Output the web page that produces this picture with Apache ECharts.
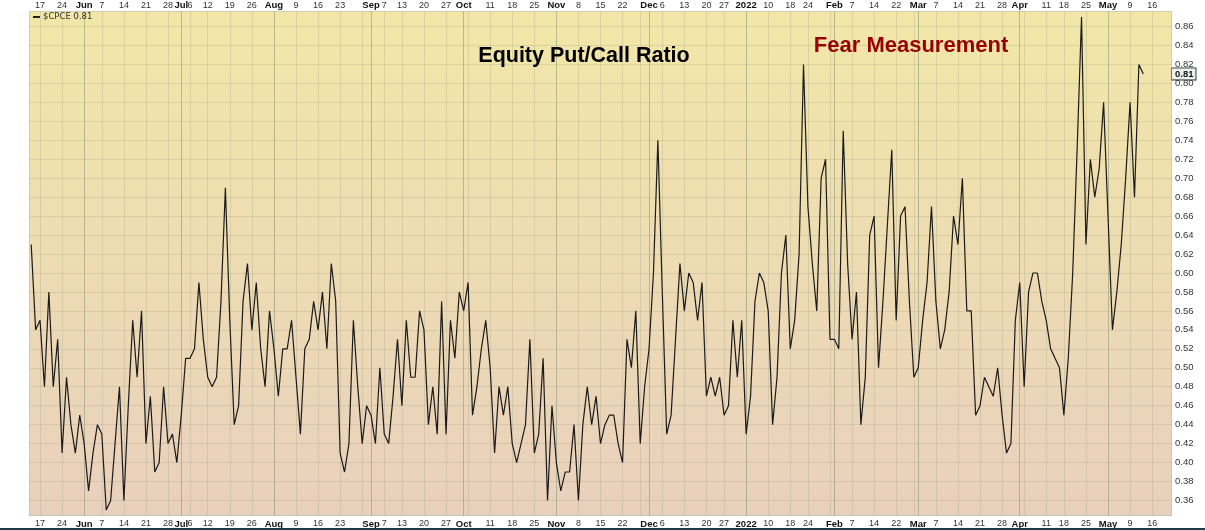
<!DOCTYPE html>
<html><head><meta charset="utf-8">
<script src="https://cdn.jsdelivr.net/npm/echarts@6/dist/echarts.min.js"></script>
<style>html,body{margin:0;padding:0;background:#fff}#c{width:1205px;height:530px}</style>
</head><body><div id="c"></div>
<script>
// ---- data ----
const cpce = [
0.63,0.54,0.55,0.48,0.58,0.48,0.53,0.41,0.49,0.44,
0.41,0.45,0.42,0.37,0.41,0.44,0.43,0.35,0.36,0.42,
0.48,0.36,0.46,0.55,0.49,0.56,0.42,0.47,0.39,0.40,
0.48,0.42,0.43,0.40,0.45,0.51,0.51,0.52,0.59,0.53,
0.49,0.48,0.49,0.57,0.69,0.55,0.44,0.46,0.57,0.61,
0.54,0.59,0.52,0.48,0.56,0.52,0.47,0.52,0.52,0.55,
0.49,0.43,0.52,0.53,0.57,0.54,0.58,0.52,0.61,0.57,
0.41,0.39,0.42,0.55,0.48,0.42,0.46,0.45,0.42,0.50,
0.43,0.42,0.47,0.53,0.46,0.55,0.49,0.49,0.56,0.54,
0.44,0.48,0.43,0.57,0.43,0.55,0.51,0.58,0.56,0.59,
0.45,0.48,0.52,0.55,0.50,0.41,0.48,0.45,0.48,0.42,
0.40,0.42,0.44,0.53,0.41,0.43,0.51,0.36,0.46,0.40,
0.37,0.39,0.39,0.44,0.36,0.44,0.48,0.44,0.47,0.42,
0.44,0.45,0.45,0.42,0.40,0.53,0.50,0.56,0.42,0.48,
0.52,0.60,0.74,0.58,0.43,0.45,0.53,0.61,0.56,0.60,
0.59,0.55,0.59,0.47,0.49,0.47,0.49,0.45,0.46,0.55,
0.49,0.55,0.43,0.47,0.57,0.60,0.59,0.56,0.44,0.49,
0.60,0.64,0.52,0.55,0.62,0.82,0.67,0.61,0.56,0.70,
0.72,0.53,0.53,0.52,0.75,0.61,0.53,0.58,0.44,0.49,
0.64,0.66,0.50,0.57,0.65,0.73,0.55,0.66,0.67,0.57,
0.49,0.50,0.55,0.59,0.67,0.57,0.52,0.54,0.58,0.66,
0.63,0.70,0.56,0.56,0.45,0.46,0.49,0.48,0.47,0.50,
0.45,0.41,0.42,0.55,0.59,0.48,0.58,0.60,0.60,0.57,
0.55,0.52,0.51,0.50,0.45,0.51,0.60,0.73,0.87,0.63,
0.72,0.68,0.71,0.78,0.66,0.54,0.58,0.63,0.70,0.78,
0.68,0.82,0.81
];
const startDate = '2021-05-13';
const endDate = '2022-05-20';
const holidays = ['2021-05-31','2021-07-05','2021-09-06','2021-11-25','2021-12-24','2022-01-17','2022-02-21','2022-04-15'];
const tickDates = ['2021-05-17','2021-05-24','2021-06-01','2021-06-07','2021-06-14','2021-06-21','2021-06-28','2021-07-01','2021-07-06','2021-07-12','2021-07-19','2021-07-26','2021-08-02','2021-08-09','2021-08-16','2021-08-23','2021-09-01','2021-09-07','2021-09-13','2021-09-20','2021-09-27','2021-10-01','2021-10-11','2021-10-18','2021-10-25','2021-11-01','2021-11-08','2021-11-15','2021-11-22','2021-12-01','2021-12-06','2021-12-13','2021-12-20','2021-12-27','2022-01-03','2022-01-10','2022-01-18','2022-01-24','2022-02-01','2022-02-07','2022-02-14','2022-02-22','2022-03-01','2022-03-07','2022-03-14','2022-03-21','2022-03-28','2022-04-01','2022-04-11','2022-04-18','2022-04-25','2022-05-02','2022-05-09','2022-05-16'];
const tickTexts = ['17','24','Jun','7','14','21','28','Jul','6','12','19','26','Aug','9','16','23','Sep','7','13','20','27','Oct','11','18','25','Nov','8','15','22','Dec','6','13','20','27','2022','10','18','24','Feb','7','14','22','Mar','7','14','21','28','Apr','11','18','25','May','9','16'];
const monthDates = ['2021-06-01','2021-07-01','2021-08-02','2021-09-01','2021-10-01','2021-11-01','2021-12-01','2022-01-03','2022-02-01','2022-03-01','2022-04-01','2022-05-02'];
const unlabeledWeekDates = ['2021-08-30','2021-10-04','2021-11-29','2022-01-31','2022-02-28','2022-04-04'];
const yTicks = [0.36,0.38,0.40,0.42,0.44,0.46,0.48,0.50,0.52,0.54,0.56,0.58,0.60,0.62,0.64,0.66,0.68,0.70,0.72,0.74,0.76,0.78,0.80,0.82,0.84,0.86];
const lastValue = 0.81;
const symbolName = '$CPCE';
const title1 = 'Equity Put/Call Ratio';
const title2 = 'Fear Measurement';

// ---- build categories (trading days) ----
function tradingDays(s, e) {
  const out = [];
  const d = new Date(s + 'T00:00:00Z');
  const end = new Date(e + 'T00:00:00Z');
  while (d <= end) {
    const wd = d.getUTCDay();
    const iso = d.toISOString().slice(0, 10);
    if (wd !== 0 && wd !== 6 && holidays.indexOf(iso) < 0) out.push(iso);
    d.setUTCDate(d.getUTCDate() + 1);
  }
  return out;
}
const cats = tradingDays(startDate, endDate);
const labelMap = {};
tickDates.forEach((d, i) => { labelMap[d] = tickTexts[i]; });
const monthSet = new Set(monthDates);

const G = { left: 29, right: 33, top: 11, bottom: 14 };
const yMin = 0.3436, yMax = 0.8764;

const xLabel = {
  interval: (idx, val) => labelMap[val] !== undefined,
  formatter: (val) => monthSet.has(val) ? '{m|' + labelMap[val] + '}' : labelMap[val],
  fontFamily: 'Liberation Sans, Arial, sans-serif',
  fontSize: 9, color: '#333',
  rich: { m: { fontWeight: 'bold', color: '#111', fontSize: 9.5, fontFamily: 'Liberation Sans, Arial, sans-serif' } }
};

const weekColor = 'rgba(150,160,130,0.26)';
const monthColor = 'rgba(120,140,110,0.48)';
const vLines = [];
tickDates.concat(unlabeledWeekDates).forEach(d => {
  if (!monthSet.has(d)) vLines.push({ xAxis: d, lineStyle: { color: weekColor, width: 1, type: 'solid' } });
});
monthDates.forEach(d => vLines.push({ xAxis: d, lineStyle: { color: monthColor, width: 1, type: 'solid' } }));
const hLines = yTicks.map(v => ({ yAxis: v, lineStyle: { color: weekColor, width: 1, type: 'solid' } }));

const chart = echarts.init(document.getElementById('c'), null, { renderer: 'canvas' });
chart.setOption({
  animation: false,
  backgroundColor: '#ffffff',
  grid: Object.assign({
    show: true,
    borderWidth: 0,
    backgroundColor: new echarts.graphic.LinearGradient(0, 0, 0, 1, [
      { offset: 0, color: '#f2e7a7' },
      { offset: 1, color: '#e9d0bd' }
    ])
  }, G),
  xAxis: [
    { type: 'category', data: cats, boundaryGap: true, position: 'bottom',
      axisLine: { show: false }, axisTick: { show: false }, splitLine: { show: false },
      axisLabel: Object.assign({ margin: 3 }, xLabel) },
    { type: 'category', data: cats, boundaryGap: true, position: 'top',
      axisLine: { show: false }, axisTick: { show: false }, splitLine: { show: false },
      axisLabel: Object.assign({ margin: 1 }, xLabel) }
  ],
  yAxis: [
    { type: 'value', min: yMin, max: yMax, position: 'right',
      axisLine: { show: false }, axisTick: { show: false }, splitLine: { show: false },
      axisLabel: { customValues: yTicks, margin: 3, fontSize: 9.5, color: '#333',
        fontFamily: 'Liberation Sans, Arial, sans-serif', formatter: v => v.toFixed(2) } },
    { type: 'value', min: yMin, max: yMax, position: 'right',
      axisLine: { show: false }, axisTick: { show: false }, splitLine: { show: false },
      axisLabel: { customValues: [lastValue], margin: 0, fontSize: 9.5, fontWeight: 'bold', color: '#111',
        fontFamily: 'Liberation Sans, Arial, sans-serif',
        backgroundColor: '#eef2ee', borderColor: '#1f3f3f', borderWidth: 1, padding: [1, 2, 0, 3],
        formatter: v => v.toFixed(2) } }
  ],
  series: [
    { type: 'line', data: [], z: 1, silent: true,
      markLine: { silent: true, symbol: ['none', 'none'], label: { show: false }, animation: false,
        data: vLines.concat(hLines) } },
    { type: 'line', name: symbolName, data: cpce, z: 5, showSymbol: false, symbol: 'none',
      lineStyle: { color: '#1a1a1a', width: 1.2 } }
  ],
  graphic: [
    { type: 'rect', shape: { x: 29.5, y: 11.5, width: 1142, height: 504 }, silent: true, z: 10,
      style: { fill: 'none', stroke: '#a7bcbc', lineWidth: 1, lineDash: [1, 1] } },
    { type: 'rect', shape: { x: 33, y: 16, width: 7, height: 2 }, style: { fill: '#222' }, z: 10 },
    { type: 'text', x: 43, y: 12.5, z: 10, style: { text: symbolName + ' ' + lastValue.toFixed(2),
      font: '8.5px "DejaVu Sans", sans-serif', fill: '#333' } },
    { type: 'text', x: 584, y: 56, z: 10, style: { text: title1, align: 'center', verticalAlign: 'middle',
      font: 'bold 21.5px "Liberation Sans", Arial, sans-serif', fill: '#000' } },
    { type: 'text', x: 911, y: 46, z: 10, style: { text: title2, align: 'center', verticalAlign: 'middle',
      font: 'bold 22px "Liberation Sans", Arial, sans-serif', fill: '#990000' } },
    { type: 'rect', shape: { x: 0, y: 528, width: 1205, height: 2 }, style: { fill: '#1f3b45' }, z: 10 }
  ]
});
</script></body></html>
